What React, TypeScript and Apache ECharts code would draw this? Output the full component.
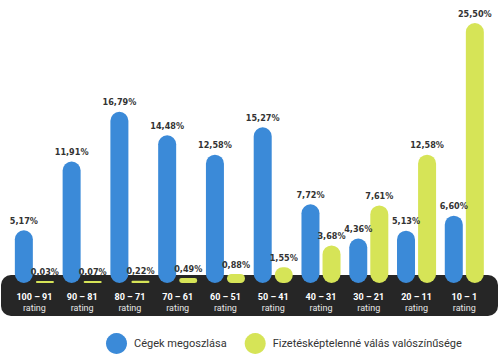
import React, { useEffect, useRef } from "react";
import * as echarts from "echarts";

const categories = ["100 – 91", "90 – 81", "80 – 71", "70 – 61", "60 – 51", "50 – 41", "40 – 31", "30 – 21", "20 – 11", "10 – 1"];
const companyShare = [5.17, 11.91, 16.79, 14.48, 12.58, 15.27, 7.72, 4.36, 5.13, 6.6];
const defaultProb = [0.03, 0.07, 0.22, 0.49, 0.88, 1.55, 3.68, 7.61, 12.58, 25.5];
const seriesNames = ["Cégek megoszlása", "Fizetésképtelenné válás valószínűsége"];
const subLabel = "rating";

const BLUE = "#3b8ad8";
const YELLOW = "#d6e457";

export default function App() {
  const ref = useRef<HTMLDivElement>(null);
  useEffect(() => {
    document.body.style.margin = "0";
    const chart = echarts.init(ref.current!, null, { renderer: "svg" });
    const fmt = (p: any) => p.value.toFixed(2).replace(".", ",") + "%";
    const labelCfg = {
      show: true,
      position: "top" as const,
      distance: 5,
      formatter: fmt,
      color: "#333",
      fontSize: 9,
      fontWeight: "bold" as const,
      fontFamily: "'Liberation Sans Narrow', 'DejaVu Sans Condensed', Roboto",
    };
    chart.setOption({
      animation: false,
      grid: { left: 10.5, right: 11.8, top: 23, bottom: 74 },
      graphic: {
        elements: [
          {
            type: "rect",
            z: -1,
            shape: { x: 1, y: 275, width: 497, height: 41, r: 10 },
            style: { fill: "#262626" },
          },
        ],
      },
      legend: {
        left: 101,
        top: 328,
        icon: "circle",
        itemWidth: 21,
        itemHeight: 21,
        itemGap: 18,
        textStyle: { fontSize: 11, color: "#333", fontFamily: "Roboto", padding: [0, 0, 0, 2] },
        data: seriesNames,
      },
      xAxis: {
        type: "category",
        data: categories,
        z: 5,
        axisLine: { show: false },
        axisTick: { show: false },
        axisLabel: {
          interval: 0,
          margin: 8,
          formatter: (v: string) => `{a|${v}}\n{b|${subLabel}}`,
          rich: {
            a: { color: "#fff", fontSize: 9, fontWeight: "bold", fontFamily: "Roboto", lineHeight: 11 },
            b: { color: "#e8e8e8", fontSize: 9, fontFamily: "Roboto", lineHeight: 11 },
          },
        },
      },
      yAxis: { type: "value", min: 0, max: 25.5, show: false, splitLine: { show: false } },
      series: [
        {
          name: seriesNames[0],
          type: "bar",
          data: companyShare,
          barWidth: 18,
          barGap: "17%",
          barMinHeight: 2,
          itemStyle: { color: BLUE, borderRadius: 9 },
          label: labelCfg,
        },
        {
          name: seriesNames[1],
          type: "bar",
          data: defaultProb,
          barWidth: 18,
          barMinHeight: 2,
          itemStyle: { color: YELLOW, borderRadius: 9 },
          label: labelCfg,
        },
      ],
    });
    return () => chart.dispose();
  }, []);
  return <div ref={ref} style={{ width: 500, height: 357 }} />;
}
